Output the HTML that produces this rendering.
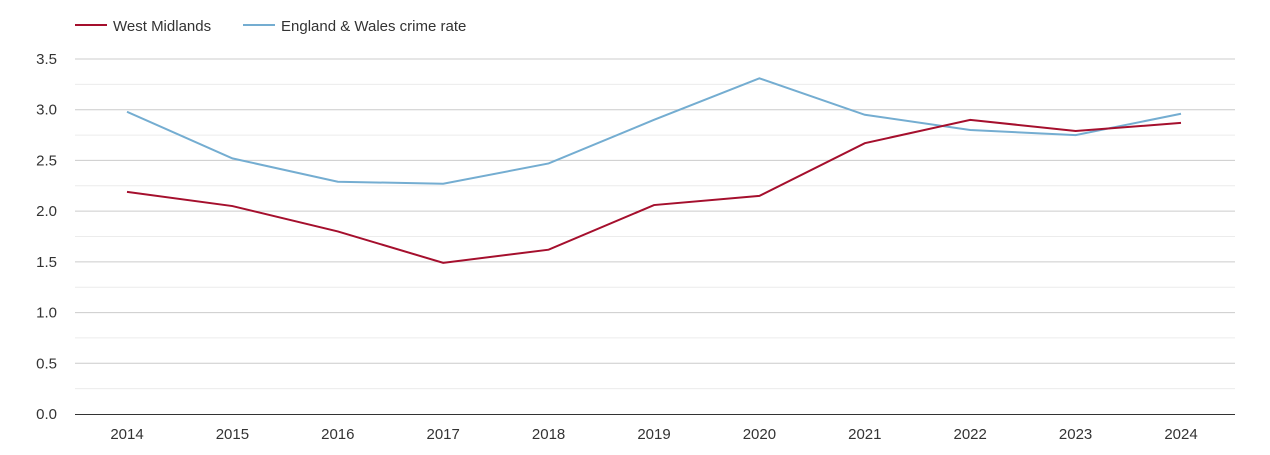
<!DOCTYPE html>
<html><head><meta charset="utf-8"><style>
body{margin:0;background:#fff;font-family:"Liberation Sans",sans-serif;}
svg text{font-family:"Liberation Sans",sans-serif;fill:#333;font-size:15px;}
</style></head><body>
<svg id="chart" width="1270" height="450">
<g id="legend">
<g><line x1="75" y1="25" x2="107" y2="25" stroke="#a50f2d" stroke-width="2"/><text x="113" y="31">West Midlands</text></g>
<g><line x1="243" y1="25" x2="275" y2="25" stroke="#74add1" stroke-width="2"/><text x="281" y="31">England &amp; Wales crime rate</text></g>
</g>
<g id="grid"></g><g id="axes"></g><g id="series"></g>
</svg>
<script>
const years=["2014","2015","2016","2017","2018","2019","2020","2021","2022","2023","2024"];
const westMidlands=[2.19,2.05,1.80,1.49,1.62,2.06,2.15,2.67,2.90,2.79,2.87];
const englandWales=[2.98,2.52,2.29,2.27,2.47,2.90,3.31,2.95,2.80,2.75,2.96];
const yTicks=["0.0","0.5","1.0","1.5","2.0","2.5","3.0","3.5"];
const NS="http://www.w3.org/2000/svg";
const x0=75,x1=1235,y0=414,yTop=59,yMax=3.5;
const step=(1181-127)/(years.length-1);
function xs(i){return 127+i*step;}
function ys(v){return y0-(v/yMax)*(y0-yTop);}
function mk(t,a,p){const e=document.createElementNS(NS,t);for(const k in a)e.setAttribute(k,a[k]);p.appendChild(e);return e;}
const grid=document.getElementById('grid'),axes=document.getElementById('axes'),series=document.getElementById('series');
for(let v=0.25;v<=yMax+0.001;v+=0.5){const l=mk('line',{x1:x0,x2:x1,y1:ys(v),y2:ys(v),stroke:'#ececec'},grid);

}
yTicks.forEach(t=>{const v=parseFloat(t);
if(v>0){const l=mk('line',{x1:x0,x2:x1,y1:ys(v),y2:ys(v),stroke:'#cccccc'},grid);

}
const tx=mk('text',{x:57,y:ys(v)+5,'text-anchor':'end'},axes);tx.textContent=t;

});
const ax=mk('line',{x1:x0,x2:x1,y1:y0+0.5,y2:y0+0.5,stroke:'#333'},axes);


years.forEach((y,i)=>{const tx=mk('text',{x:xs(i),y:439,'text-anchor':'middle'},axes);tx.textContent=y;

});
function line(data,color,name){const p=mk('polyline',{points:data.map((v,i)=>xs(i)+','+ys(v)).join(' '),fill:'none',stroke:color,'stroke-width':2},series);

}
line(englandWales,'#74add1','england-wales-line');
line(westMidlands,'#a50f2d','west-midlands-line');
</script>
</body></html>
